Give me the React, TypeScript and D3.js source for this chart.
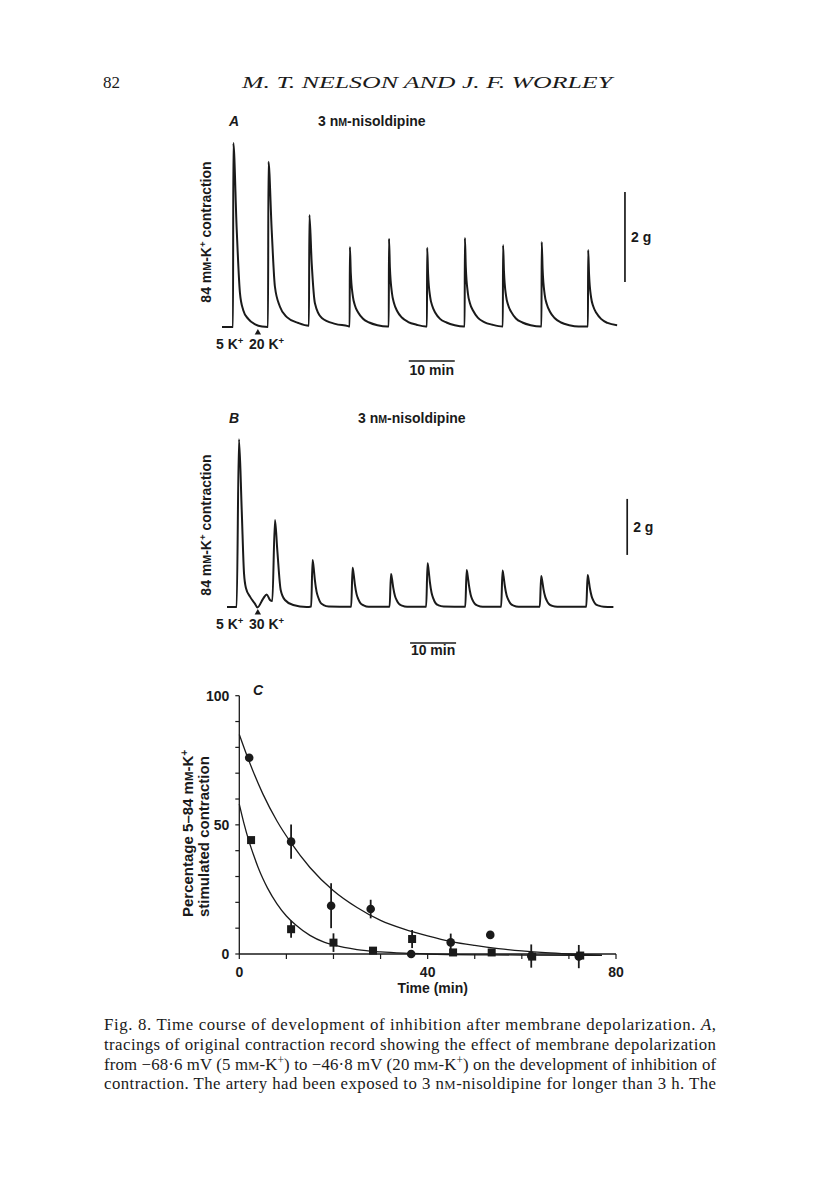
import React from 'react';
import * as d3 from 'd3';

// ---- panel A: contraction trace, time (min) / force (g)
const traceA: [number, number][] = [
  [0, 0], [2.4, 0], [2.46, 4.09], [3.2, 2.16], [3.9, 0.76], [4.6, 0.38], [5.7, 0.18], [7.2, 0.06], [8.7, 0.01], [10.0, 0],
  [10.1, 3.67], [10.8, 2.16], [11.5, 0.9], [12.6, 0.45], [14.1, 0.22], [16.6, 0.09], [18.9, 0.03],
  [19.0, 2.49], [19.5, 1.42], [20.2, 0.53], [21.7, 0.2], [24.6, 0.07], [27.4, 0.02], [27.75, 0.01],
  [27.8, 1.78], [28.0, 1.2], [28.45, 0.68], [28.9, 0.48], [29.6, 0.32], [30.6, 0.19], [32.0, 0.1], [33.8, 0.04], [36.0, 0.01], [36.25, 0.01],
  [36.3, 1.96], [36.5, 1.32], [36.95, 0.75], [37.4, 0.53], [38.1, 0.35], [39.1, 0.21], [40.5, 0.11], [42.3, 0.05], [44.3, 0.01], [44.55, 0.01],
  [44.6, 1.76], [44.8, 1.19], [45.25, 0.67], [45.7, 0.47], [46.4, 0.31], [47.4, 0.18], [48.8, 0.1], [50.6, 0.04], [52.6, 0.01], [52.75, 0.01],
  [52.8, 1.98], [53.0, 1.34], [53.45, 0.75], [53.9, 0.53], [54.6, 0.36], [55.6, 0.21], [57.0, 0.11], [58.8, 0.05], [61.0, 0.01], [61.05, 0.01],
  [61.1, 1.82], [61.3, 1.23], [61.75, 0.69], [62.2, 0.49], [62.9, 0.33], [63.9, 0.19], [65.3, 0.1], [67.1, 0.04], [69.4, 0.01], [69.45, 0.01],
  [69.5, 1.89], [69.7, 1.28], [70.15, 0.72], [70.6, 0.51], [71.3, 0.34], [72.3, 0.2], [73.7, 0.1], [75.5, 0.04], [77.5, 0.01], [79.55, 0.01],
  [79.6, 1.71], [79.8, 1.16], [80.25, 0.65], [80.7, 0.46], [81.4, 0.31], [82.4, 0.18], [83.8, 0.09], [85.9, 0.04],
];
const stimA = 7.8;        // arrow: 5 K+ -> 20 K+
const timeBarA = [40.6, 50.6];
const gBarA = { t: 87.6, from: 1, to: 3 };

// ---- panel B
const traceB: [number, number][] = [
  [0, 0], [2.1, 0], [2.6, 5.99], [3.2, 3.46], [3.7, 1.2], [4.13, 0.67], [5.0, 0.37], [6.1, 0.11], [6.6, -0.02],
  [7.9, 0.31], [8.63, 0.45], [9.35, 0.25], [9.85, 0.21],
  [10.43, 3.11], [10.93, 2.04], [11.67, 0.61], [12.6, 0.25], [14.4, 0.07], [17.3, 0], [18.3, 0.02],
  [18.6, 1.68], [18.82, 1.43], [19.1, 0.97], [19.47, 0.55], [19.84, 0.34], [20.34, 0.15], [21.0, 0.07], [22.1, 0.02], [27.0, 0.01],
  [27.3, 1.4], [27.52, 1.19], [27.8, 0.81], [28.17, 0.46], [28.54, 0.28], [29.04, 0.13], [29.7, 0.06], [30.8, 0.01], [35.35, 0.01],
  [35.65, 1.18], [35.87, 1.0], [36.15, 0.68], [36.52, 0.39], [36.89, 0.24], [37.39, 0.11], [38.05, 0.05], [39.15, 0.01], [43.3, 0.01],
  [43.6, 1.56], [43.82, 1.33], [44.1, 0.9], [44.47, 0.51], [44.84, 0.31], [45.34, 0.14], [46.0, 0.06], [47.1, 0.02], [51.8, 0.01],
  [52.1, 1.32], [52.32, 1.12], [52.6, 0.77], [52.97, 0.44], [53.34, 0.26], [53.84, 0.12], [54.5, 0.05], [55.6, 0.01], [59.6, 0.01],
  [59.9, 1.3], [60.12, 1.1], [60.4, 0.75], [60.77, 0.43], [61.14, 0.26], [61.64, 0.12], [62.3, 0.05], [63.4, 0.01], [68.0, 0.01],
  [68.3, 1.11], [68.52, 0.94], [68.8, 0.64], [69.17, 0.37], [69.54, 0.22], [70.04, 0.1], [70.7, 0.04], [71.8, 0.01], [78.1, 0.01],
  [78.4, 1.14], [78.62, 0.97], [78.9, 0.66], [79.27, 0.38], [79.64, 0.23], [80.14, 0.1], [80.8, 0.05], [81.9, 0.01], [84.0, 0],
];
const stimB = 6.7;        // arrow: 5 K+ -> 30 K+
const timeBarB = [39.8, 49.8];
const gBarB = { t: 87.0, from: 1.86, to: 3.86 };

// ---- panel C: percentage of 5-84 mM-K+ contraction vs time
const circleTime = [2.1, 11, 19.5, 27.9, 36.5, 44.9, 53.3, 62, 72.1];
const circleValue = [76, 43.5, 18.7, 17.4, 0, 4.5, 7.4, -0.8, -1];
const circleErr = [0, 6.6, 8.7, 3.6, 0, 3.4, 0, 4.5, 4.5];
const squareTime = [2.5, 11, 20, 28.4, 36.7, 45.4, 53.6, 62.2, 72.4];
const squareValue = [44.1, 9.6, 4.4, 1.3, 5.8, 0.6, 0.6, -1, -0.6];
const squareErr = [0, 3.3, 3.6, 0, 3.5, 0, 0, 0, 0];

// fitted curves
const circleFitTime = [0, 2, 5, 8, 11, 15, 20, 25, 30, 35, 40, 45, 50, 55, 60, 65, 70, 77];
const circleFitValue = [85, 75, 62, 51.5, 43, 33.5, 24.5, 18, 13, 9.6, 7, 4.8, 3.3, 2.1, 1.2, 0.5, 0, -0.5];
const squareFitTime = [0, 1, 2, 3, 4, 5, 6, 8, 10, 12, 15, 18, 20, 25, 30, 35, 40, 50, 60, 77];
const squareFitValue = [58, 50.5, 44, 38.5, 33.5, 29.2, 25.5, 19.4, 14.7, 11.2, 7.2, 4.6, 3.5, 1.7, 0.8, 0.3, 0, -0.3, -0.4, -0.5];

const xTickLabels = [0, 40, 80];
const yTickLabels = [0, 50, 100];

const SANS = "'Liberation Sans', Arial, Helvetica, sans-serif";
const SERIF = "'Liberation Serif', 'Times New Roman', serif";
const INK = '#1a1a1a';
const FS = 14;

const xA = d3.scaleLinear().domain([0, 10]).range([222, 268]);
const yA = d3.scaleLinear().domain([0, 2]).range([327, 237]);
const xB = d3.scaleLinear().domain([0, 10]).range([227, 273]);
const yB = d3.scaleLinear().domain([0, 2]).range([607, 551]);
const xC = d3.scaleLinear().domain([0, 80]).range([239.3, 616]);
const yC = d3.scaleLinear().domain([0, 100]).range([954, 695.7]);

const SC = (s: string) => <tspan fontSize="0.76em">{s}</tspan>;
const SUP = (s: string) => <tspan fontSize="0.68em" baselineShift="55%">{s}</tspan>;

function Trace({ data, x, y }: { data: [number, number][]; x: any; y: any }) {
  const line = d3.line<[number, number]>().x(d => x(d[0])).y(d => y(d[1])).curve(d3.curveMonotoneX);
  return <path d={line(data) || ''} fill="none" stroke={INK} strokeWidth={2} strokeLinejoin="round" />;
}

function Panel({ label, data, x, y, stim, conc, timeBar, gBar, titleY, titleX, labelY }: any) {
  const by = y(0);
  const sx = x(stim);
  const textY = by + 22;
  return (
    <g fontFamily={SANS} fontWeight="bold" fill={INK}>
      <text x={229} y={titleY} fontSize={FS} fontStyle="italic">{label}</text>
      <text x={titleX} y={titleY} fontSize={FS}>3 n{SC('M')}-nisoldipine</text>
      <text transform={`translate(211,${labelY}) rotate(-90)`}
        textAnchor="middle" fontSize={FS}>84 m{SC('M')}-K{SUP('+')} contraction</text>
      <Trace data={data} x={x} y={y} />
      <path d={`M${sx},${by + 2}l3.2,5.5h-6.4z`} fill={INK} />
      <text x={216} y={textY} fontSize={FS}>5 K{SUP('+')}</text>
      <text x={249} y={textY} fontSize={FS}>{conc} K{SUP('+')}</text>
      <line x1={x(timeBar[0])} x2={x(timeBar[1])} y1={by + (label === 'A' ? 34 : 36)} y2={by + (label === 'A' ? 34 : 36)} stroke={INK} strokeWidth={1.4} />
      <text x={(x(timeBar[0]) + x(timeBar[1])) / 2} y={by + 48} textAnchor="middle" fontSize={FS}>10 min</text>
      <line x1={x(gBar.t)} x2={x(gBar.t)} y1={y(gBar.from)} y2={y(gBar.to)} stroke={INK} strokeWidth={1.7} />
      <text x={x(gBar.t) + 6} y={(y(gBar.from) + y(gBar.to)) / 2 + 5} fontSize={FS}>2 g</text>
    </g>
  );
}

export default function App() {
  const circleFit = d3.line<number>()
    .x(i => xC(circleFitTime[i])).y(i => yC(circleFitValue[i])).curve(d3.curveMonotoneX)(d3.range(circleFitTime.length));
  const squareFit = d3.line<number>()
    .x(i => xC(squareFitTime[i])).y(i => yC(squareFitValue[i])).curve(d3.curveMonotoneX)(d3.range(squareFitTime.length));

  return (
    <svg width={816} height={1183} style={{ position: 'absolute', left: 0, top: 0, background: '#fff' }}>
      <rect width={816} height={1183} fill="#fff" />
      {/* running head */}
      <g fontFamily={SERIF} fill={INK}>
        <text x={103} y={88} fontSize={17}>82</text>
        <text x={242} y={88} fontSize={17} fontStyle="italic" textLength={370} lengthAdjust="spacingAndGlyphs">M. T. NELSON AND J. F. WORLEY</text>
      </g>

      <Panel label="A" data={traceA} x={xA} y={yA} stim={stimA} conc="20" timeBar={timeBarA} gBar={gBarA} titleY={126} titleX={318} labelY={232} />
      <Panel label="B" data={traceB} x={xB} y={yB} stim={stimB} conc="30" timeBar={timeBarB} gBar={gBarB} titleY={423} titleX={358} labelY={525} />

      {/* panel C */}
      <g fontFamily={SANS} fontWeight="bold" fill={INK}>
        <line x1={xC(0)} x2={xC(0)} y1={yC(0)} y2={yC(100)} stroke={INK} strokeWidth={1.3} />
        <line x1={xC(0)} x2={xC(80)} y1={yC(0)} y2={yC(0)} stroke={INK} strokeWidth={1.3} />
        {yC.ticks(10).map(t => (
          <line key={'yt' + t} x1={xC(0) - 4} x2={xC(0)} y1={yC(t)} y2={yC(t)} stroke={INK} strokeWidth={1.2} />
        ))}
        {xC.ticks(8).map(t => (
          <line key={'xt' + t} x1={xC(t)} x2={xC(t)} y1={yC(0)} y2={yC(0) + 5} stroke={INK} strokeWidth={1.2} />
        ))}
        {yTickLabels.map(t => (
          <text key={'yl' + t} x={xC(0) - 10} y={yC(t) + 5} textAnchor="end" fontSize={FS}>{t}</text>
        ))}
        {xTickLabels.map(t => (
          <text key={'xl' + t} x={xC(t)} y={977} textAnchor="middle" fontSize={FS}>{t}</text>
        ))}
        <text x={xC(40) + 5} y={993} textAnchor="middle" fontSize={FS}>Time (min)</text>
        <text x={253} y={695} fontSize={FS} fontStyle="italic">C</text>
        <text transform="translate(193,917) rotate(-90)" fontSize={15}>Percentage 5–84 m{SC('M')}-K{SUP('+')}</text>
        <text transform="translate(209,917) rotate(-90)" fontSize={15}>stimulated contraction</text>

        <path d={circleFit || ''} fill="none" stroke={INK} strokeWidth={1.3} />
        <path d={squareFit || ''} fill="none" stroke={INK} strokeWidth={1.3} />

        {circleTime.map((t, i) => circleErr[i] > 0 && (
          <line key={'ce' + i} x1={xC(t)} x2={xC(t)} y1={yC(circleValue[i] - circleErr[i])} y2={yC(circleValue[i] + circleErr[i])} stroke={INK} strokeWidth={1.8} />
        ))}
        {squareTime.map((t, i) => squareErr[i] > 0 && (
          <line key={'se' + i} x1={xC(t)} x2={xC(t)} y1={yC(squareValue[i] - squareErr[i])} y2={yC(squareValue[i] + squareErr[i])} stroke={INK} strokeWidth={1.8} />
        ))}
        {squareTime.map((t, i) => (
          <rect key={'sq' + i} x={xC(t) - 4} y={yC(squareValue[i]) - 4} width={8} height={8} fill={INK} />
        ))}
        {circleTime.map((t, i) => (
          <circle key={'ci' + i} cx={xC(t)} cy={yC(circleValue[i])} r={4.3} fill={INK} />
        ))}
      </g>

      {/* caption */}
      <g fontFamily={SERIF} fontSize={16.8} fill={INK}>
        <text x={104} y={1030} textLength={612} lengthAdjust="spacing">Fig. 8. Time course of development of inhibition after membrane depolarization. <tspan fontStyle="italic">A</tspan>,</text>
        <text x={104} y={1050} textLength={612} lengthAdjust="spacing">tracings of original contraction record showing the effect of membrane depolarization</text>
        <text x={104} y={1070} textLength={612} lengthAdjust="spacing">from {'\u2212'}68{'\u00b7'}6 mV (5 m{SC('M')}-K{SUP('+')}) to {'\u2212'}46{'\u00b7'}8 mV (20 m{SC('M')}-K{SUP('+')}) on the development of inhibition of</text>
        <text x={104} y={1089} textLength={612} lengthAdjust="spacing">contraction. The artery had been exposed to 3 n{SC('M')}-nisoldipine for longer than 3 h. The</text>
      </g>
    </svg>
  );
}
